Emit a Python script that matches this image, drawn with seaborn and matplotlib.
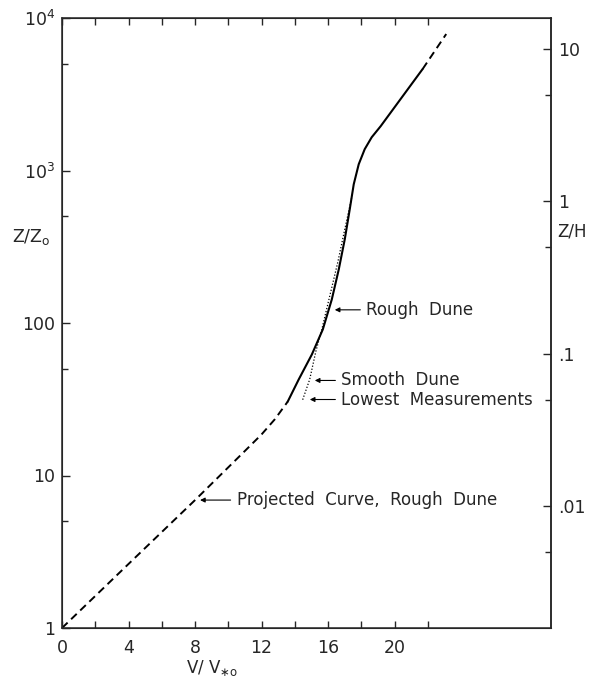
import numpy as np
import pandas as pd
import matplotlib
matplotlib.use("Agg")
import matplotlib.pyplot as plt
import seaborn as sns
from matplotlib.ticker import FixedLocator, FixedFormatter, NullFormatter

# ---- data ----
proj_low_x = [0, 4, 8, 11, 12, 12.8, 13.57]
proj_low_y = [1.0, 2.63, 6.9, 14.5, 18.6, 23.4, 30.5]

rough_x = [13.57, 14.23, 15.02, 15.68, 16.22, 16.64, 17.00, 17.30, 17.54,
           17.84, 18.20, 18.62, 19.16, 21.68]
rough_y = [30.5, 42.6, 62.1, 90.7, 142.6, 224.6, 353.5, 556.6, 812,
           1099, 1380, 1652, 1953, 4624]

proj_high_x = [21.68, 23.1]
proj_high_y = [4624, 7850]

lowest_x = [14.47, 14.89, 15.26, 15.62, 16.58, 17.00, 17.42]
lowest_y = [31.4, 42.6, 65, 90.7, 250, 411, 667]

x_ticks = [0, 2, 4, 6, 8, 10, 12, 14, 16, 18, 20, 22]
x_tick_labels = ["0", "", "4", "", "8", "", "12", "", "16", "", "20", ""]
y_ticks = [1, 10, 100, 1000, 10000]
y_tick_labels = ["1", "10", "100", r"10$^3$", r"10$^4$"]
y_minor = [5, 50, 500, 5000]
h_over_z0 = 630.0
zh_ticks = [0.01, 0.1, 1, 10]
zh_tick_labels = [".01", ".1", "1", "10"]
zh_minor = [0.005, 0.05, 0.5, 5]

sns.set_style("ticks")
plt.rcParams["font.family"] = ["DejaVu Sans"]

fig = plt.figure(figsize=(5.94, 6.86), dpi=100)
ax = fig.add_axes([62/594, 1-628/686, (551-62)/594, (628-18)/686])

dash = (0, (4, 2.5))
sns.lineplot(x=proj_low_x, y=proj_low_y, ax=ax, color="black", lw=1.4,
             linestyle=dash, estimator=None, sort=False)
sns.lineplot(x=rough_x, y=rough_y, ax=ax, color="black", lw=1.5,
             estimator=None, sort=False)
sns.lineplot(x=proj_high_x, y=proj_high_y, ax=ax, color="black", lw=1.4,
             linestyle=dash, estimator=None, sort=False)
sns.lineplot(x=lowest_x, y=lowest_y, ax=ax, color="black", lw=0.9,
             linestyle=(0, (1, 1.5)), estimator=None, sort=False)

ax.set_yscale("log")
ax.set_xlim(0, 29.4)
ax.set_ylim(1, 1e4)

tls = 12.5
ax.xaxis.set_major_locator(FixedLocator(x_ticks))
ax.xaxis.set_major_formatter(FixedFormatter(x_tick_labels))
ax.yaxis.set_major_locator(FixedLocator(y_ticks))
ax.yaxis.set_major_formatter(FixedFormatter(y_tick_labels))
ax.yaxis.set_minor_locator(FixedLocator(y_minor))
ax.yaxis.set_minor_formatter(NullFormatter())
ax.tick_params(axis="x", which="both", direction="in", top=True, length=5,
               width=1, pad=8, labelsize=tls)
ax.tick_params(axis="y", which="major", direction="in", length=6, width=1,
               pad=5, labelsize=tls)
ax.tick_params(axis="y", which="minor", direction="in", length=4, width=1)
for s in ax.spines.values():
    s.set_linewidth(1.1)
ax.set_xlabel("")
ax.set_ylabel("")

ax2 = ax.twinx()
ax2.set_yscale("log")
ax2.set_ylim(1/h_over_z0, 1e4/h_over_z0)
ax2.yaxis.set_major_locator(FixedLocator(zh_ticks))
ax2.yaxis.set_major_formatter(FixedFormatter(zh_tick_labels))
ax2.yaxis.set_minor_locator(FixedLocator(zh_minor))
ax2.yaxis.set_minor_formatter(NullFormatter())
ax2.tick_params(axis="y", which="major", direction="in", length=6, width=1,
                pad=5, labelsize=tls)
ax2.tick_params(axis="y", which="minor", direction="in", length=4, width=1)
ax2.spines["right"].set_linewidth(1.1)

arrow = dict(arrowstyle="-|>", color="black", lw=0.8, mutation_scale=7,
             shrinkA=2, shrinkB=0)
tfs = 12
ax.annotate("Rough  Dune", xy=(16.4, 122), xytext=(18.3, 122),
            ha="left", va="center", fontsize=tfs, arrowprops=arrow)
ax.annotate("Smooth  Dune", xy=(15.2, 42), xytext=(16.8, 42),
            ha="left", va="center", fontsize=tfs, arrowprops=arrow)
ax.annotate("Lowest  Measurements", xy=(14.9, 31.5), xytext=(16.8, 31.5),
            ha="left", va="center", fontsize=tfs, arrowprops=arrow)
ax.annotate("Projected  Curve,  Rough  Dune", xy=(8.3, 6.9), xytext=(10.5, 6.9),
            ha="left", va="center", fontsize=tfs, arrowprops=arrow)

fig.text(12/594, 1-237/686, r"Z/Z$_\mathrm{o}$", ha="left", va="center", fontsize=12.5)
fig.text(557/594, 1-232/686, "Z/H", ha="left", va="center", fontsize=12)
fig.text(212/594, 1-668/686, r"V/ V$_{\ast\mathrm{o}}$", ha="center", va="center", fontsize=12)

fig.savefig("out.png", dpi=100)
